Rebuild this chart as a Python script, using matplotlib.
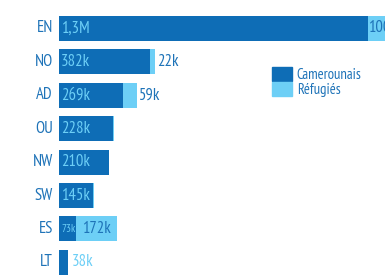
import numpy as np
import matplotlib
matplotlib.use("Agg")
import matplotlib.pyplot as plt
from matplotlib.patches import Patch

# data (thousands)
regions = ["EN", "NO", "AD", "OU", "NW", "SW", "ES", "LT"]
cameroonians = [1300, 382, 269, 228, 210, 145, 73, 38]
refugees = [100, 22, 59, 3, 0, 3, 172, 0]
cam_labels = ["1,3M", "382k", "269k", "228k", "210k", "145k", "73k", "38k"]
ref_labels = ["100k", "22k", "59k", "", "", "", "172k", ""]

DARK = "#0e6db6"
LIGHT = "#6dcff6"
TXT = "#1e73b8"
plt.rcParams["font.family"] = ["PT Sans Narrow", "Archivo Narrow", "DejaVu Sans"]

fig = plt.figure(figsize=(3.85, 2.75), dpi=100)
ax = fig.add_axes([59 / 385, 0, 1 - 59 / 385, 1])

y = np.arange(len(regions))
ax.barh(y, cameroonians, height=0.75, color=DARK, label="Camerounais")
ax.barh(y, refugees, left=cameroonians, height=0.75, color=LIGHT, label="Réfugiés")

ax.set_xlim(0, 1371)
ax.set_ylim(7.38, -0.853)
ax.axis("off")

px = 1371 / 326.0  # data units per pixel
for i, (c, r) in enumerate(zip(cameroonians, refugees)):
    ax.text(-6 * px, i, regions[i], ha="right", va="center", fontsize=12, color=TXT)
    # cameroonian value
    if c > 60:
        fs = 12 if c > 100 else 8
        ax.text(2 * px, i, cam_labels[i], ha="left", va="center", fontsize=fs, color=LIGHT)
    else:
        ax.text(c + 4 * px, i, cam_labels[i], ha="left", va="center", fontsize=12, color=LIGHT)
    # refugee value
    if ref_labels[i]:
        if r > 150:
            ax.text(c + r / 2, i, ref_labels[i], ha="center", va="center", fontsize=12, color=TXT)
        elif c > 1000:
            ax.text(c, i, ref_labels[i], ha="left", va="center", fontsize=12,
                    color=TXT, clip_on=False)
        else:
            ax.text(c + r + 2 * px, i, ref_labels[i], ha="left", va="center", fontsize=12, color=TXT)

handles = [Patch(color=DARK, label="Camerounais"), Patch(color=LIGHT, label="Réfugiés")]
fig.legend(handles=handles, loc="upper left", bbox_to_anchor=(272 / 385, 1 - 67 / 275),
           frameon=False, fontsize=10.5, handlelength=1.4, handleheight=1.1,
           handletextpad=0.3, labelspacing=0.0, borderpad=0, borderaxespad=0,
           labelcolor=TXT)

fig.savefig("out.png", dpi=100)
